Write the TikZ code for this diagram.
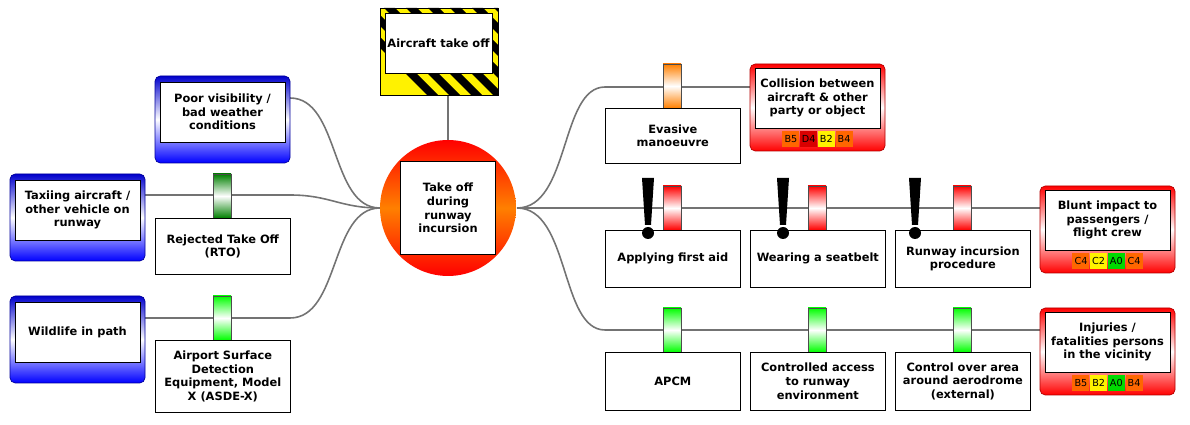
\documentclass[tikz,border=0pt]{standalone}
\usepackage{fontspec}
\setmainfont{DejaVu Sans}
\begin{document}
\begin{tikzpicture}[x=0.02cm,y=-0.02cm,
    lbl/.style={font=\fontsize{6.5}{7.8}\selectfont\bfseries, align=center},
    wbox/.style={draw, fill=white, inner sep=0pt},
    link/.style={draw=black!55, line width=0.9pt},
    chip/.style={font=\fontsize{5.5}{5.5}\selectfont, inner sep=0pt, minimum width=0.34cm, minimum height=0.32cm}]
  \useasboundingbox (0,0) rectangle (1190,425);
  % connectors
  \coordinate (hub) at (517,208);
  \draw[link] (290,98) .. controls (340,98) and (330,208) .. (380,208);
  \draw[link] (145,195) -- (290,195) .. controls (330,195) and (340,208) .. (380,208);
  \draw[link] (145,318) -- (290,318) .. controls (340,318) and (330,208) .. (380,208);
  \draw[link] (448,95) -- (448,140);
  \draw[link] (hub) .. controls (570,208) and (560,87) .. (605,87) -- (750,87);
  \draw[link] (hub) -- (1040,208);
  \draw[link] (hub) .. controls (570,208) and (560,330) .. (605,330) -- (1040,330);
  % top event
  \begin{scope}
    \clip (380,8) rectangle (498,95);
    \fill[yellow] (380,8) rectangle (498,95);
    \foreach \s in {340,362,...,520} \fill (\s,8) -- (\s+11,8) -- (\s+98,95) -- (\s+87,95) -- cycle;
  \end{scope}
  \draw (380,8) rectangle (498,95);
  \node[wbox, minimum width=2.14cm, minimum height=1.2cm] (top) at (438.5,43) {};
  \node[lbl] at (top) {Aircraft take off};
  % hazard
  \shade[top color=red, bottom color=red, middle color=orange] (448,208) circle (1.36cm);
  \node[wbox, minimum width=1.9cm, minimum height=1.86cm] (haz) at (448,208) {};
  \node[lbl] at (haz) {Take off\\during\\runway\\incursion};
  % threats
  \foreach \n/\x/\y/\t in {tvis/155/76/{Poor visibility /\\bad weather\\conditions},
                          ttax/10/174/{Taxiing aircraft /\\other vehicle on\\runway},
                          twild/10/296/Wildlife in path} {
    \shade[rounded corners=3pt, top color=blue!80!black, bottom color=blue, middle color=white, draw=blue!60!black]
      (\x,\y) rectangle (\x+135,\y+87);
    \node[wbox, minimum width=2.5cm, minimum height=1.2cm] (\n) at (\x+67.5,\y+36) {};
    \node[lbl] at (\n) {\t};
  }
  % consequences
  \foreach \n/\x/\y/\t in {ccol/750/64/{Collision between\\aircraft \& other\\party or object},
                          cblunt/1040/186/{Blunt impact to\\passengers /\\flight crew},
                          cinj/1040/308/{Injuries /\\fatalities persons\\in the vicinity}} {
    \shade[rounded corners=3pt, top color=red, bottom color=red, middle color=white, draw=red!70!black]
      (\x,\y) rectangle (\x+135,\y+87);
    \node[wbox, minimum width=2.5cm, minimum height=1.2cm] (\n) at (\x+67.5,\y+34) {};
    \node[lbl] at (\n) {\t};
  }
  \foreach \n/\a/\ca/\b/\cb/\c/\cc/\d/\cd in {ccol/B5/orange!80!red/D4/red!85!black/B2/yellow/B4/orange!80!red,
      cblunt/C4/orange!80!red/C2/yellow/A0/green!85!black/C4/orange!80!red,
      cinj/B5/orange!80!red/B2/yellow/A0/green!85!black/B4/orange!80!red} {
    \node[chip, fill=\cb, anchor=north east] (\n b) at ([yshift=-0.05cm]\n.south) {\b};
    \node[chip, fill=\ca, anchor=east] (\n a) at (\n b.west) {\a};
    \node[chip, fill=\cc, anchor=west] (\n c) at (\n b.east) {\c};
    \node[chip, fill=\cd, anchor=west] (\n d) at (\n c.east) {\d};
  }
  % barriers
  \foreach \n/\x/\y/\h/\col/\t in {brto/155/174/56/green!50!black/{Rejected Take Off\\(RTO)},
      basde/155/296/72/green/{Airport Surface\\Detection\\Equipment, Model\\X (ASDE-X)},
      beva/605/64/55/orange/{Evasive\\manoeuvre},
      baid/605/186/57/red/Applying first aid,
      bbelt/750/186/57/red/Wearing a seatbelt,
      bproc/895/186/57/red/{Runway incursion\\procedure},
      bapcm/605/308/58/green/APCM,
      bacc/750/308/58/green/{Controlled access\\to runway\\environment},
      barea/895/308/58/green/{Control over area\\around aerodrome\\(external)}} {
    \shade[top color=\col, bottom color=\col, middle color=white, draw=black!70] (\x+58,\y) rectangle (\x+76,\y+44);
    \node[wbox, minimum width=2.7cm, minimum height=\h*0.02cm, anchor=north west] (\n) at (\x,\y+44) {};
    \node[lbl] at (\n) {\t};
  }
  % warnings
  \foreach \x in {648,783,915} {
    \fill (\x-6,178) -- (\x+6,178) -- (\x+3,225) -- (\x-3,225) -- cycle;
    \fill (\x,233) circle (0.12cm);
  }
\end{tikzpicture}
\end{document}
